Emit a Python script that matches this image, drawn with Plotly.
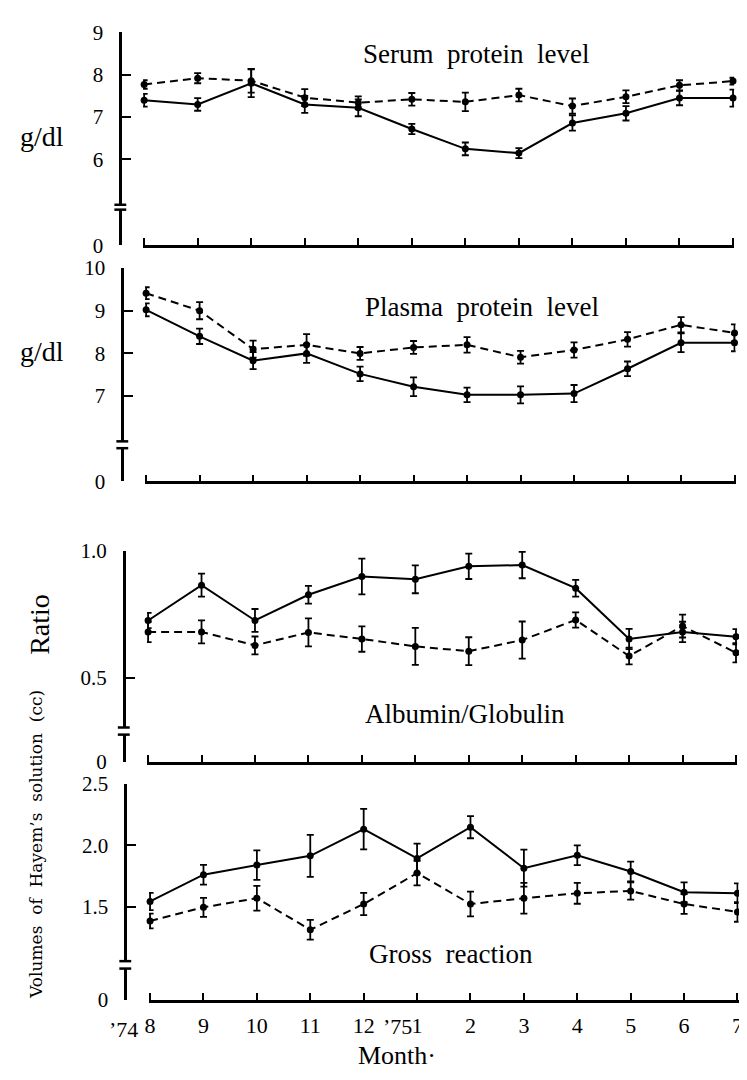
import plotly.graph_objects as go

# ---------------- data ----------------
months = ["8", "9", "10", "11", "12", "1", "2", "3", "4", "5", "6", "7"]
xi = list(range(len(months)))

serum_solid = [7.40, 7.30, 7.80, 7.30, 7.22, 6.72, 6.25, 6.15, 6.86, 7.09, 7.45, 7.45]
serum_solid_err = [0.15, 0.15, 0.33, 0.20, 0.20, 0.12, 0.15, 0.12, 0.18, 0.17, 0.17, 0.20]
serum_dashed = [7.77, 7.92, 7.86, 7.46, 7.34, 7.42, 7.36, 7.52, 7.26, 7.48, 7.75, 7.85]
serum_dashed_err = [0.10, 0.12, 0.28, 0.20, 0.15, 0.15, 0.22, 0.15, 0.18, 0.15, 0.12, 0.08]

plasma_solid = [9.02, 8.40, 7.83, 8.00, 7.52, 7.22, 7.03, 7.03, 7.06, 7.64, 8.25, 8.25]
plasma_solid_err = [0.15, 0.18, 0.20, 0.22, 0.17, 0.22, 0.17, 0.20, 0.20, 0.17, 0.22, 0.20]
plasma_dashed = [9.41, 9.00, 8.10, 8.20, 8.00, 8.14, 8.20, 7.91, 8.08, 8.33, 8.67, 8.48]
plasma_dashed_err = [0.14, 0.20, 0.20, 0.25, 0.15, 0.15, 0.18, 0.15, 0.18, 0.17, 0.18, 0.20]

ag_solid = [0.725, 0.864, 0.725, 0.826, 0.898, 0.887, 0.938, 0.943, 0.852, 0.652, 0.680, 0.661]
ag_solid_err = [0.030, 0.045, 0.045, 0.035, 0.070, 0.055, 0.050, 0.052, 0.033, 0.040, 0.040, 0.030]
ag_dashed = [0.680, 0.680, 0.627, 0.678, 0.652, 0.623, 0.604, 0.648, 0.727, 0.585, 0.703, 0.598]
ag_dashed_err = [0.040, 0.045, 0.035, 0.055, 0.050, 0.073, 0.055, 0.073, 0.030, 0.033, 0.045, 0.038]

gross_solid = [1.545, 1.762, 1.840, 1.915, 2.132, 1.894, 2.148, 1.815, 1.920, 1.788, 1.620, 1.612]
gross_solid_err = [0.07, 0.08, 0.12, 0.17, 0.165, 0.12, 0.09, 0.15, 0.08, 0.08, 0.08, 0.08]
gross_dashed = [1.386, 1.497, 1.571, 1.315, 1.524, 1.775, 1.524, 1.571, 1.611, 1.630, 1.524, 1.460]
gross_dashed_err = [0.06, 0.077, 0.10, 0.08, 0.09, 0.10, 0.10, 0.125, 0.085, 0.07, 0.08, 0.08]

panel_titles = ["Serum\u00a0\u00a0protein\u00a0\u00a0level", "Plasma\u00a0\u00a0protein\u00a0\u00a0level",
                "Albumin/Globulin", "Gross\u00a0\u00a0reaction"]
upper_ticks = [[6, 7, 8, 9], [7, 8, 9, 10], [0.5, 1.0], [1.5, 2.0, 2.5]]
upper_ticktext = [["6", "7", "8", "9"], ["7", "8", "9", "10"], ["0.5", "1.0"], ["1.5", "2.0", "2.5"]]
upper_ranges = [[4.93, 9], [5.94, 10], [0.304, 1.0], [1.06, 2.5]]

series = [
    (serum_solid, serum_solid_err, serum_dashed, serum_dashed_err),
    (plasma_solid, plasma_solid_err, plasma_dashed, plasma_dashed_err),
    (ag_solid, ag_solid_err, ag_dashed, ag_dashed_err),
    (gross_solid, gross_solid_err, gross_dashed, gross_dashed_err),
]

# ---------------- layout geometry (screen pixels) ----------------
OFF = 8                  # default page body margin
W, H = 747 - OFF, 1080 - OFF
AXIS_X = [117.5, 119.5, 121, 122.5]          # y-axis line per panel (scan is slightly skewed)
X_SPAN = [(140.5, 738), (142.5, 739.5), (144.5, 741), (146.5, 742.5)]
# (upper top, upper bottom, lower top, lower bottom) in screen pixels
panel_px = [
    (20.7, 197, 202, 238.3),
    (261.7, 439, 446, 480),
    (550.7, 731.7, 739, 766.7),
    (789.3, 970.7, 978.3, 1010),
]
title_px = [(361, 43), (363, 302), (363, 718), (367, 963)]


def py(p):
    return 1 - (p - OFF) / H


def px(p):
    return (p - OFF) / W


SERIF = "Liberation Serif"
TICKFONT = dict(family=SERIF, size=21, color="black")

fig = go.Figure()
layout = dict(
    width=W, height=H, autosize=False,
    margin=dict(l=0, r=0, t=0, b=0, pad=0),
    paper_bgcolor="white", plot_bgcolor="white",
    showlegend=False,
)
shapes = []
annotations = []

for p in range(4):
    n = p + 1
    xa = "x" if n == 1 else f"x{n}"
    ya_up = "y" if p == 0 else f"y{2 * p + 1}"
    ya_lo = f"y{2 * p + 2}"
    xkey = "xaxis" if n == 1 else f"xaxis{n}"
    yupkey = "yaxis" if p == 0 else f"yaxis{2 * p + 1}"
    ylokey = f"yaxis{2 * p + 2}"
    ut, ub, lt, lb = panel_px[p]
    ax_x = AXIS_X[p]
    xl, xr = X_SPAN[p]

    s, se, d, de = series[p]
    # empty trace so that the lower (zero) axis segment forms a subplot
    fig.add_trace(go.Scatter(x=[], y=[], xaxis=xa, yaxis=ya_lo, mode="markers",
                             hoverinfo="skip"))
    fig.add_trace(go.Scatter(
        x=xi, y=d, xaxis=xa, yaxis=ya_up, mode="lines+markers",
        line=dict(color="black", width=2, dash="8px,5px"),
        marker=dict(color="black", size=7),
        error_y=dict(type="data", array=de, color="black", thickness=1.8, width=3.5),
        cliponaxis=False,
    ))
    fig.add_trace(go.Scatter(
        x=xi, y=s, xaxis=xa, yaxis=ya_up, mode="lines+markers",
        line=dict(color="black", width=2),
        marker=dict(color="black", size=7),
        error_y=dict(type="data", array=se, color="black", thickness=1.8, width=3.5),
        cliponaxis=False,
    ))

    layout[xkey] = dict(
        domain=[px(xl), px(xr)], range=[-0.02, 11.02],
        anchor=ya_lo, side="bottom", showline=True, linecolor="black", linewidth=2.5,
        showgrid=False, zeroline=False,
        tickmode="array", tickvals=xi, ticktext=months,
        ticks="inside", ticklen=7, tickwidth=2, tickcolor="black",
        showticklabels=(p == 3), tickfont=dict(family=SERIF, size=22, color="black"),
        ticklabelstandoff=4,
    )
    layout[yupkey] = dict(
        domain=[py(ub), py(ut)], range=upper_ranges[p],
        anchor="free", position=px(ax_x), side="left",
        showline=True, linecolor="black", linewidth=2.5,
        showgrid=False, zeroline=False,
        tickmode="array", tickvals=upper_ticks[p], ticktext=upper_ticktext[p],
        ticks="inside", ticklen=9, tickwidth=2, tickcolor="black",
        tickfont=TICKFONT, ticklabelstandoff=12,
    )
    layout[ylokey] = dict(
        domain=[py(lb), py(lt)], range=[0, 1],
        anchor="free", position=px(ax_x), side="left",
        showline=True, linecolor="black", linewidth=2.5,
        showgrid=False, zeroline=False,
        tickmode="array", tickvals=[0], ticktext=["0"],
        ticks="inside", ticklen=9, tickwidth=2.5, tickcolor="black",
        tickfont=TICKFONT, ticklabelstandoff=12,
    )
    # axis-break caps
    for yy in (ub, lt):
        shapes.append(dict(type="line", xref="paper", yref="paper",
                           x0=px(ax_x - 6), x1=px(ax_x + 6), y0=py(yy), y1=py(yy),
                           line=dict(color="black", width=2.5)))

    tx, ty = title_px[p]
    annotations.append(dict(text=panel_titles[p], x=px(tx), y=py(ty), xanchor="left"))

annotations += [
    dict(text="g/dl", x=px(38), y=py(127), font=dict(family=SERIF, size=28, color="black")),
    dict(text="g/dl", x=px(38), y=py(347), font=dict(family=SERIF, size=28, color="black")),
    dict(text="Ratio", x=px(35), y=py(626), textangle=-90, font=dict(family=SERIF, size=28, color="black")),
    dict(text="Volumes\u00a0\u00a0of\u00a0\u00a0Hayem\u2019s\u00a0\u00a0solution\u00a0\u00a0(cc)", x=px(32), y=py(851),
         textangle=-90, font=dict(family="DejaVu Serif", size=17, color="black")),
    dict(text="\u201974", x=px(121), y=py(1041), font=dict(family=SERIF, size=22, color="black")),
    dict(text="\u201975", x=px(398), y=py(1038), font=dict(family=SERIF, size=22, color="black")),
    dict(text="Month\u00b7", x=px(397), y=py(1067), font=dict(family=SERIF, size=26, color="black")),
]
for a in annotations:
    a.setdefault("xref", "paper")
    a.setdefault("yref", "paper")
    a.setdefault("showarrow", False)
    a.setdefault("xanchor", "center")
    a.setdefault("yanchor", "middle")
    a.setdefault("font", dict(family=SERIF, size=27, color="black"))

layout["shapes"] = shapes
layout["annotations"] = annotations
fig.update_layout(**layout)

fig.write_html("out.html")
